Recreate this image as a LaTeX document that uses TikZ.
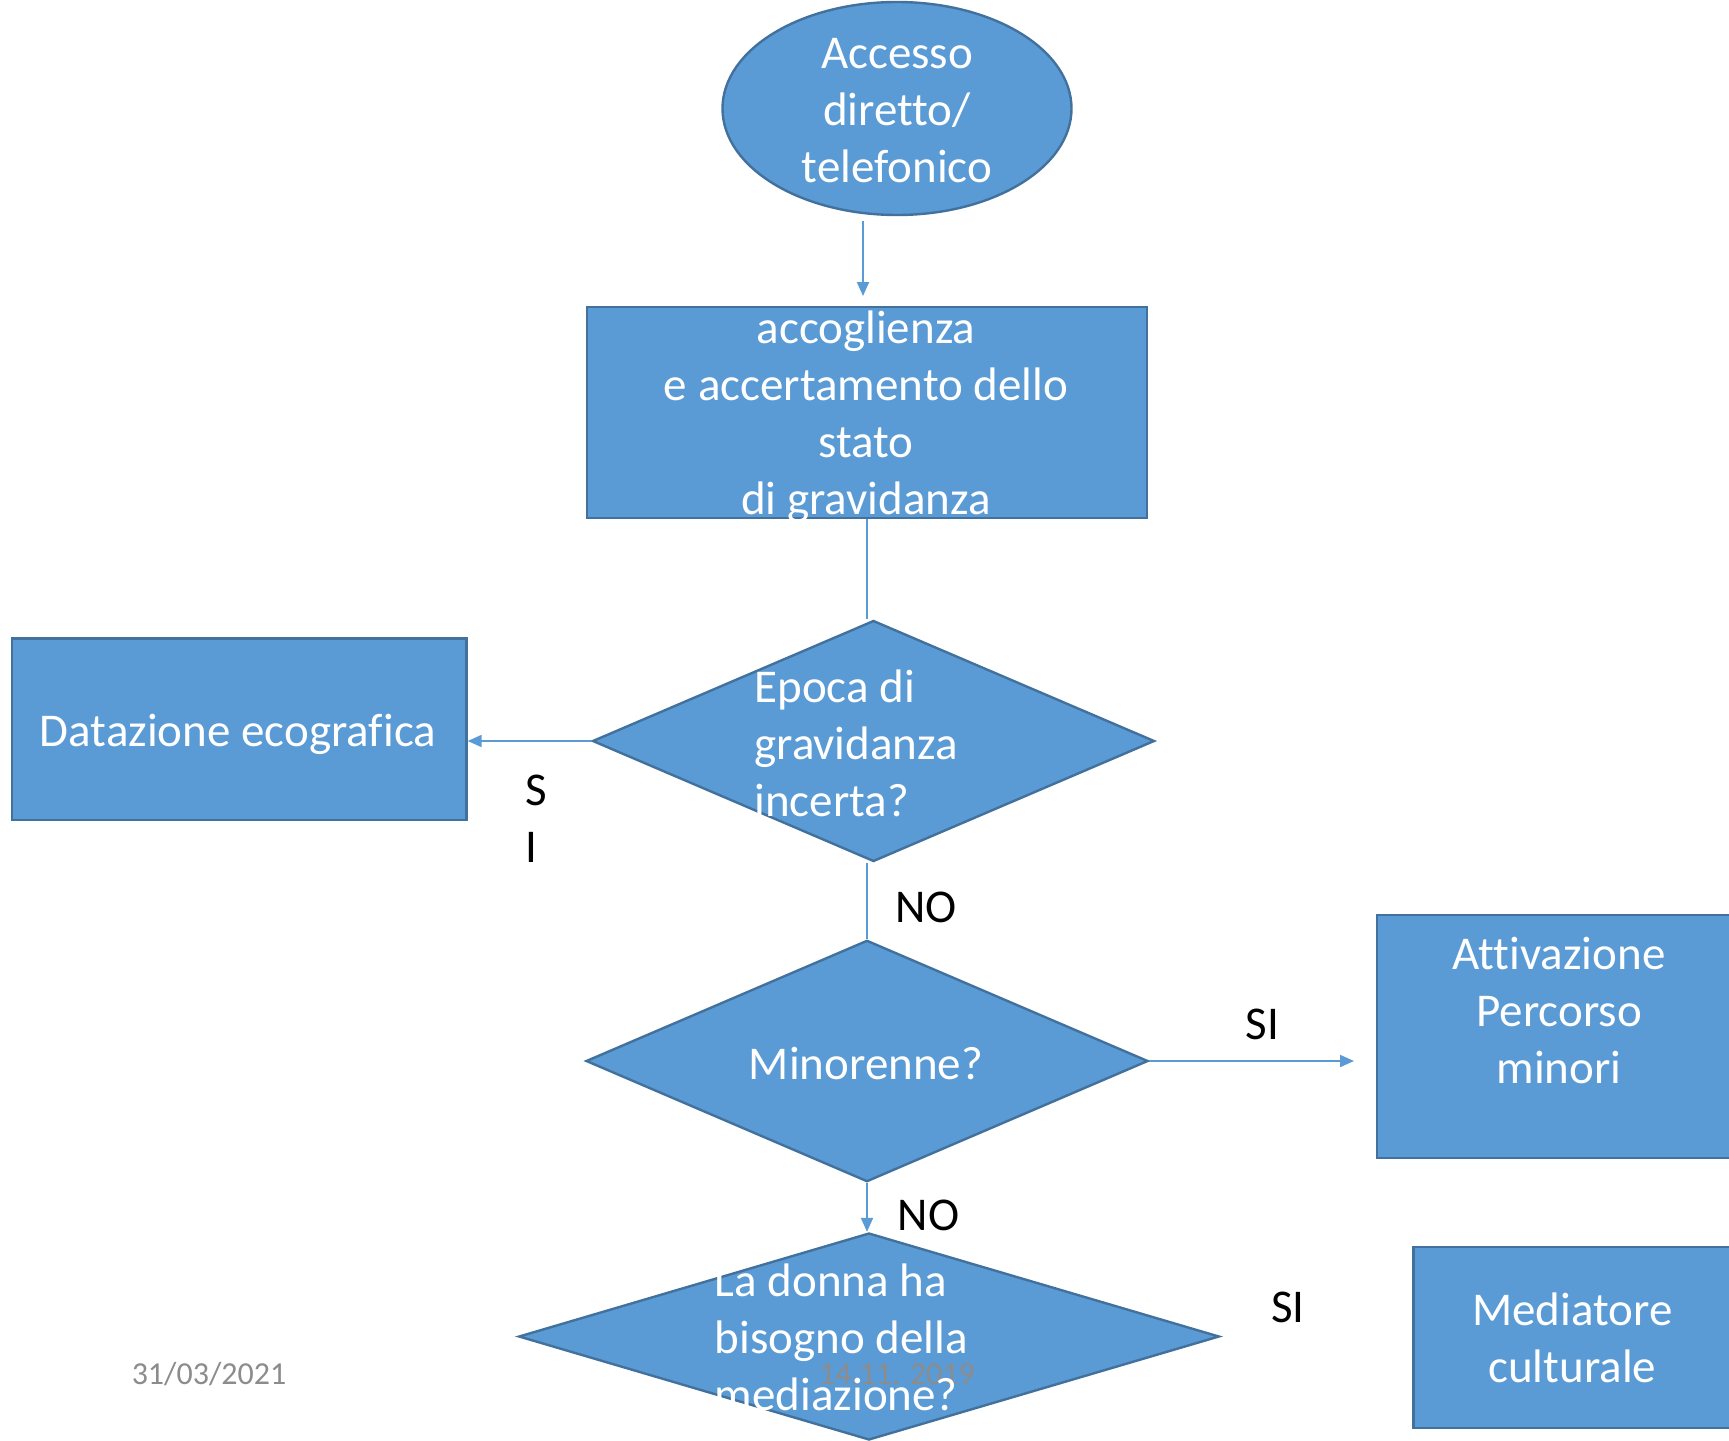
\documentclass[tikz,border=0pt]{standalone}
\usepackage{fontspec}
\setmainfont{Carlito}[Ligatures=NoCommon]
\usetikzlibrary{shapes.geometric,arrows.meta,calc}
\definecolor{boxblue}{HTML}{5B9BD5}
\definecolor{boxedge}{HTML}{41719C}
\definecolor{datagray}{HTML}{8C8C8C}
\tikzset{
 shapebox/.style={draw=boxedge, fill=boxblue, line width=1.2pt, inner sep=0pt},
 rectbox/.style={shapebox, rectangle},
 ellbox/.style={shapebox, ellipse},
 diabox/.style={shapebox, diamond},
 wtext/.style={text=white, font=\fontsize{23.5}{28.5}\selectfont, inner sep=0pt},
 btext/.style={text=black, font=\fontsize{23.5}{28.5}\selectfont, inner sep=0pt},
 gtext/.style={text=datagray, font=\fontsize{16}{19}\selectfont, inner sep=0pt},
 conn/.style={draw=boxblue, line width=1pt},
 arr/.style={conn, -{Triangle[length=7pt,width=6pt]}},
}
\begin{document}
\begin{tikzpicture}[x=0.5pt,y=-0.5pt]
\useasboundingbox (0,0) rectangle (1729,1440);
\clip (0,0) rectangle (1729,1440);
% shapes
\node[ellbox, minimum width=174.5pt, minimum height=106.5pt] (acc) at (897,108.5) {};
\node[wtext, align=center] (acct) at (897,111) {Accesso\\diretto/\\telefonico};
\node[rectbox, minimum width=280pt, minimum height=105.5pt] (acco) at (867,412.5) {};
\node[wtext, align=center] (accot) at (866,416.5) {accoglienza\\e accertamento dello\\stato\\di gravidanza};
\node[diabox, minimum width=281pt, minimum height=120.5pt] (d1) at (873.5,741) {};
\node[wtext, align=left, anchor=west] (d1t) at (754,743) {Epoca di\\gravidanza\\incerta?};
\node[rectbox, minimum width=227.25pt, minimum height=90.75pt] (dat) at (239.25,729.25) {};
\node[wtext] (datt) at (238,734) {Datazione ecografica};
\node[diabox, minimum width=281pt, minimum height=120.7pt] (d2) at (867,1061) {};
\node[wtext] (d2t) at (866,1063) {Minorenne?};
\node[rectbox, minimum width=182pt, minimum height=121.5pt] (att) at (1559,1036.5) {};
\node[wtext, align=center] (attt) at (1559,1010) {Attivazione\\Percorso\\minori};
\node[diabox, minimum width=350.3pt, minimum height=103.5pt] (d3) at (869,1336.5) {};
\node[gtext] (date2) at (897,1374) {14.11. 2019};
\node[wtext, align=left, anchor=west] (d3t) at (714.5,1337) {La donna ha\\bisogno della\\mediazione?};
\node[rectbox, minimum width=158.7pt, minimum height=90.5pt] (med) at (1572.3,1337.5) {};
\node[wtext, align=center] (medt) at (1572.3,1338) {Mediatore\\culturale};
\node[gtext] (date1) at (209,1374) {31/03/2021};
% labels
\node[btext, align=left, anchor=west] (si1) at (525,819) {S\\I};
\node[btext] (no1) at (926,907.5) {NO};
\node[btext] (si2) at (1262.6,1024.4) {SI};
\node[btext] (no2) at (928.5,1215) {NO};
\node[btext] (si3) at (1288,1307) {SI};
% connectors
\coordinate (a1s) at (863,221);
\coordinate (a1e) at (863,296);
\draw[arr] (a1s) -- (a1e);
\draw[conn] (acco.south) -- (acco.south |- d1.north);
\draw[arr] (d1.west) -- (d1.west -| dat.east);
\draw[conn] (d2.north |- d1.south) -- (d2.north);
\coordinate (a5e) at (1354,1061);
\draw[arr] (d2.east) -- (a5e);
\draw[arr] (d2.south) -- (d2.south |- d3.north);
\end{tikzpicture}
\end{document}
